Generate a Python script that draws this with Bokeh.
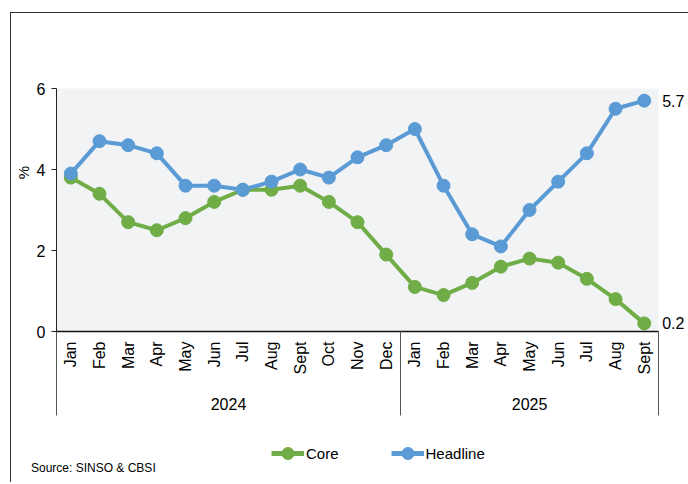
import math
from bokeh.plotting import figure
from bokeh.layouts import column
from bokeh.models import Range1d, LinearAxis, FixedTicker, Legend, Div
from bokeh.core.properties import value
from bokeh.embed import file_html
from bokeh.resources import INLINE

months = ["Jan", "Feb", "Mar", "Apr", "May", "Jun", "Jul", "Aug", "Sept", "Oct", "Nov", "Dec",
          "Jan", "Feb", "Mar", "Apr", "May", "Jun", "Jul", "Aug", "Sept"]
years = ["2024", "2025"]
year_counts = [12, 9]
headline = [3.9, 4.7, 4.6, 4.4, 3.6, 3.6, 3.5, 3.7, 4.0, 3.8, 4.3, 4.6,
            5.0, 3.6, 2.4, 2.1, 3.0, 3.7, 4.4, 5.5, 5.7]
core = [3.8, 3.4, 2.7, 2.5, 2.8, 3.2, 3.5, 3.5, 3.6, 3.2, 2.7, 1.9,
        1.1, 0.9, 1.2, 1.6, 1.8, 1.7, 1.3, 0.8, 0.2]
y_ticks = [0, 2, 4, 6]
y_max = 6

FONT = "'Liberation Sans', Arial, sans-serif"
BLUE = "#5B9BD5"
GREEN = "#70AD47"
BG = "#F2F3F5"

n = len(months)
xs = list(range(n))

# layout (pixels)
W, H = 674, 412
LEFT, BOTTOM = 44, 94
PLOT_W, PLOT_H = 603, 243            # size of grey plot area
frame_w, frame_h = W - LEFT, H - BOTTOM
x_hi = -0.5 + frame_w * n / PLOT_W
y_hi = frame_h * y_max / PLOT_H

p = figure(width=W, height=H, output_backend="svg", toolbar_location=None,
           x_range=Range1d(-0.5, x_hi), y_range=Range1d(0, y_hi),
           x_axis_type=None, y_axis_type=None,
           min_border_left=LEFT, min_border_right=0, min_border_top=0, min_border_bottom=BOTTOM)
p.background_fill_color = "white"
p.border_fill_color = "white"
p.outline_line_color = None
p.xgrid.visible = False
p.ygrid.visible = False

# grey plot area
p.quad(left=[-0.5], right=[n - 0.5], bottom=[0], top=[y_max], fill_color=BG, line_color=None)

# y axis
yax = LinearAxis(ticker=FixedTicker(ticks=y_ticks), axis_label="%", bounds=(0, y_max))
yax.axis_line_color = "#222222"
yax.axis_line_width = 1
yax.major_tick_line_color = "#222222"
yax.major_tick_out = 5
yax.major_tick_in = 0
yax.minor_tick_line_color = None
yax.major_label_text_font = FONT
yax.major_label_text_font_size = "16px"
yax.major_label_text_color = "black"
yax.major_label_standoff = 6
yax.axis_label_text_font = FONT
yax.axis_label_text_font_size = "15px"
yax.axis_label_text_font_style = "normal"
yax.axis_label_text_color = "black"
yax.axis_label_standoff = 2
p.add_layout(yax, "left")

# month axis; group separators drawn as minor ticks pointing outward
seps = [-0.5]
acc = -0.5
for c in year_counts:
    acc += c
    seps.append(acc)
xax = LinearAxis(ticker=FixedTicker(ticks=xs, minor_ticks=seps), bounds=(-0.5, n - 0.5),
                 major_label_overrides={i: m for i, m in enumerate(months)})
xax.axis_line_color = "#111111"
xax.axis_line_width = 1.5
xax.major_tick_line_color = None
xax.major_tick_out = 0
xax.major_tick_in = 0
xax.minor_tick_line_color = "#555555"
xax.minor_tick_in = -84
xax.minor_tick_out = 0
xax.major_label_orientation = math.pi / 2
xax.major_label_text_font = FONT
xax.major_label_text_font_size = "16px"
xax.major_label_text_color = "black"
xax.major_label_standoff = 10
p.add_layout(xax, "below")

# year axis
centers = []
start = 0
for c in year_counts:
    centers.append(start + (c - 1) / 2)
    start += c
yrax = LinearAxis(ticker=FixedTicker(ticks=centers), bounds=(-0.5, n - 0.5),
                  major_label_overrides={c: y for c, y in zip(centers, years)})
yrax.axis_line_color = None
yrax.major_tick_line_color = None
yrax.minor_tick_line_color = None
yrax.major_tick_out = 0
yrax.major_tick_in = 0
yrax.major_label_text_font = FONT
yrax.major_label_text_font_size = "16px"
yrax.major_label_text_color = "black"
yrax.major_label_standoff = 20
p.add_layout(yrax, "below")

p.line(xs, core, line_color=GREEN, line_width=4)
p.scatter(xs, core, size=13, fill_color=GREEN, line_color=GREEN)
p.line(xs, headline, line_color=BLUE, line_width=4)
p.scatter(xs, headline, size=13, fill_color=BLUE, line_color=BLUE)

# end-point value labels
p.text(x=[n - 1, n - 1], y=[headline[-1], core[-1]],
       text=[f"{headline[-1]:g}", f"{core[-1]:g}"], x_offset=18,
       text_baseline="middle", text_align="left",
       text_font=value(FONT), text_font_size="16px", text_color="black")

# legend strip
H2 = 43
q = figure(width=W, height=H2, output_backend="svg", toolbar_location=None,
           x_range=Range1d(-0.5, x_hi), y_range=Range1d(0, y_max),
           x_axis_type=None, y_axis_type=None,
           min_border_left=LEFT, min_border_right=0, min_border_top=0, min_border_bottom=0)
q.outline_line_color = None
q.background_fill_color = "white"
q.border_fill_color = "white"
q.xgrid.visible = False
q.ygrid.visible = False
lg_l = q.line(xs, core, line_color=GREEN, line_width=5, visible=False)
lg_s = q.scatter(xs, core, size=14, fill_color=GREEN, line_color=GREEN, visible=False)
lb_l = q.line(xs, headline, line_color=BLUE, line_width=5, visible=False)
lb_s = q.scatter(xs, headline, size=14, fill_color=BLUE, line_color=BLUE, visible=False)

legend = Legend(items=[("Core", [lg_l, lg_s]), ("Headline", [lb_l, lb_s])],
                orientation="horizontal", location=(215, 0))
legend.background_fill_alpha = 0
legend.border_line_color = None
legend.inactive_fill_alpha = 0
legend.padding = 0
legend.margin = 0
legend.spacing = 52
legend.glyph_width = 33
legend.glyph_height = 30
legend.label_standoff = 2
legend.label_text_font = FONT
legend.label_text_font_size = "15px"
legend.label_text_color = "black"
q.add_layout(legend, "center")

src = Div(text="Source: SINSO &amp; CBSI", width=W, height=16,
          styles={"font-family": FONT, "font-size": "12px", "color": "black",
                  "line-height": "14px", "padding-left": "15px", "margin-top": "-7px",
                  "white-space": "nowrap"})

layout = column(p, q, src, spacing=0,
                styles={"margin-left": "10px", "margin-top": "12px",
                        "border-left": "1px solid #333333", "border-top": "1px solid #333333",
                        "border-right": "1px solid #333333"})

open("out.html", "w").write(file_html(layout, INLINE))
